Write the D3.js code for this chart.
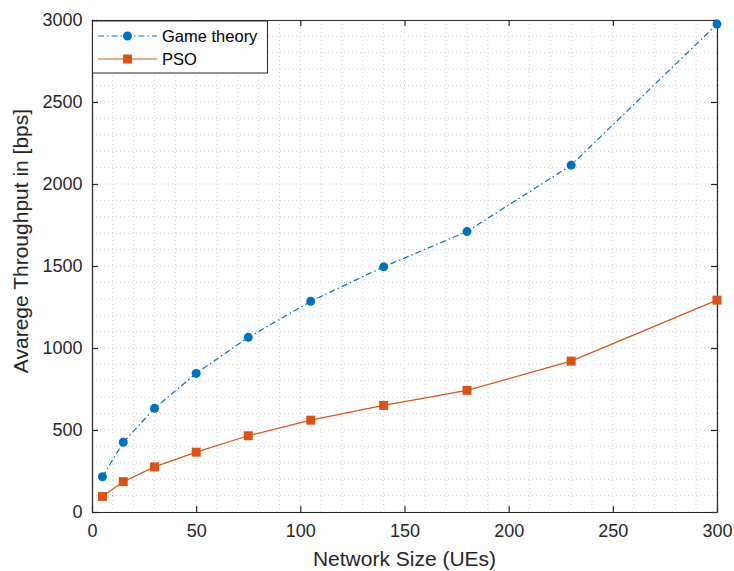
<!DOCTYPE html>
<html>
<head>
<meta charset="utf-8">
<script src="https://cdn.jsdelivr.net/npm/d3@7"></script>
<style>
  body { margin: 0; background: #fff; }
  svg { display: block; font-family: "Liberation Sans", Arial, Helvetica, sans-serif; }
</style>
</head>
<body>
<svg id="chart" width="734" height="571"></svg>
<script>
// Network sizes (number of UEs)
const networkSize = [5, 15, 30, 50, 75, 105, 140, 180, 230, 300];
// Average throughput per scheme
const gameTheory = [215, 425, 632, 845, 1065, 1285, 1495, 1710, 2115, 2975];
const pso = [95, 185, 275, 365, 465, 560, 650, 742, 920, 1292];
const seriesNames = ["Game theory", "PSO"];
const xTicks = [0, 50, 100, 150, 200, 250, 300];
const yTicks = [0, 500, 1000, 1500, 2000, 2500, 3000];

const svg = d3.select("#chart");
const m = { left: 92, right: 717, top: 20, bottom: 512 };

const x = d3.scaleLinear().domain([0, 300]).range([m.left, m.right]);
const y = d3.scaleLinear().domain([0, 3000]).range([m.bottom, m.top]);

const grid = svg.append("g");
// dotted grid at every minor step
const xMinor = d3.range(0, 301, 10);
const yMinor = d3.range(0, 3001, 100);
grid.selectAll(".xm").data(xMinor).join("line")
  .attr("x1", d => x(d)).attr("x2", d => x(d))
  .attr("y1", m.top).attr("y2", m.bottom)
  .attr("stroke", "#d0d0d0").attr("stroke-width", 1).attr("stroke-dasharray", "1,3");
grid.selectAll(".ym").data(yMinor).join("line")
  .attr("y1", d => y(d)).attr("y2", d => y(d))
  .attr("x1", m.left).attr("x2", m.right)
  .attr("stroke", "#d0d0d0").attr("stroke-width", 1).attr("stroke-dasharray", "1,3");

// Axes (ticks inward, box on all sides)
const tickLen = 6;
const fmt = d3.format("d");
const axB = svg.append("g").attr("transform", `translate(0,${m.bottom})`)
  .call(d3.axisBottom(x).tickValues(xTicks).tickFormat(fmt).tickSizeInner(-tickLen).tickSizeOuter(0).tickPadding(12));
const axL = svg.append("g").attr("transform", `translate(${m.left},0)`)
  .call(d3.axisLeft(y).tickValues(yTicks).tickFormat(fmt).tickSizeInner(-tickLen).tickSizeOuter(0).tickPadding(9.5));
const axT = svg.append("g").attr("transform", `translate(0,${m.top})`)
  .call(d3.axisTop(x).tickValues(xTicks).tickSizeInner(-tickLen).tickSizeOuter(0).tickFormat(""));
const axR = svg.append("g").attr("transform", `translate(${m.right},0)`)
  .call(d3.axisRight(y).tickValues(yTicks).tickSizeInner(-tickLen).tickSizeOuter(0).tickFormat(""));
[axB, axL, axT, axR].forEach(a => {
  a.select(".domain").attr("stroke", "#262626").attr("stroke-width", 1.2);
  a.selectAll(".tick line").attr("stroke", "#262626").attr("stroke-width", 1.2);
  a.selectAll(".tick text").attr("fill", "#262626").attr("font-size", 18)
    .attr("font-family", "'Liberation Sans', Arial, sans-serif");
});

// Axis titles
svg.append("text").attr("x", (m.left + m.right) / 2).attr("y", 566)
  .attr("text-anchor", "middle").attr("font-size", 21).attr("fill", "#262626")
  .text("Network Size (UEs)");
svg.append("text").attr("transform", `translate(28,241) rotate(-90)`)
  .attr("text-anchor", "middle").attr("font-size", 21).attr("fill", "#262626")
  .text("Avarege Throughput in [bps]");

const blue = "#0072BD", orange = "#D95319";
const line = d3.line().x(d => x(d[0])).y(d => y(d[1]));
const gtData = networkSize.map((n, i) => [n, gameTheory[i]]);
const psoData = networkSize.map((n, i) => [n, pso[i]]);

svg.append("path").datum(psoData).attr("d", line)
  .attr("fill", "none").attr("stroke", orange).attr("stroke-width", 1.2);
svg.append("path").datum(gtData).attr("d", line)
  .attr("fill", "none").attr("stroke", blue).attr("stroke-width", 1.2)
  .attr("stroke-dasharray", "6,3,1.5,3");

svg.selectAll(".sq").data(psoData).join("rect")
  .attr("x", d => x(d[0]) - 4.5).attr("y", d => y(d[1]) - 4.5)
  .attr("width", 9).attr("height", 9).attr("fill", orange);
svg.selectAll(".dot").data(gtData).join("circle")
  .attr("cx", d => x(d[0])).attr("cy", d => y(d[1])).attr("r", 4.5).attr("fill", blue);

// Legend
const lg = svg.append("g");
lg.append("rect").attr("x", 92.5).attr("y", 21).attr("width", 175).attr("height", 52)
  .attr("fill", "#fff").attr("stroke", "#262626").attr("stroke-width", 1);
const rows = [
  { name: seriesNames[0], color: blue, dash: "6,3,1.5,3", y: 36, marker: "circle" },
  { name: seriesNames[1], color: orange, dash: null, y: 59, marker: "square" }
];
rows.forEach(r => {
  lg.append("line").attr("x1", 98).attr("x2", 157).attr("y1", r.y).attr("y2", r.y)
    .attr("stroke", r.color).attr("stroke-width", 1.2).attr("stroke-dasharray", r.dash);
  if (r.marker === "circle") {
    lg.append("circle").attr("cx", 127.5).attr("cy", r.y).attr("r", 4.5).attr("fill", r.color);
  } else {
    lg.append("rect").attr("x", 123).attr("y", r.y - 4.5).attr("width", 9).attr("height", 9).attr("fill", r.color);
  }
  lg.append("text").attr("x", 162).attr("y", r.y).attr("dy", "0.35em")
    .attr("font-size", 16.5).attr("fill", "#000").text(r.name);
});
</script>
</body>
</html>
